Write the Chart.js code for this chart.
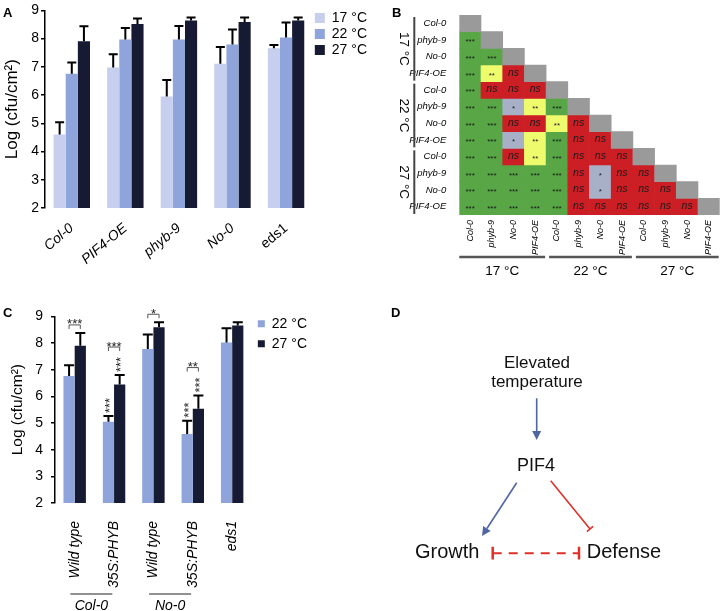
<!DOCTYPE html>
<html>
<head>
<meta charset="utf-8">
<script src="https://cdn.jsdelivr.net/npm/chart.js@4.4.1/dist/chart.umd.min.js"></script>
<style>
html, body { margin: 0; padding: 0; background: #fff; }
#wrap { position: relative; width: 724px; height: 611px; overflow: hidden; }
canvas { position: absolute; }
</style>
</head>
<body>
<div id="wrap">
<canvas id="chartA" width="377" height="300" style="left:0;top:0"></canvas>
<canvas id="chartB" width="364" height="295" style="left:360px;top:0"></canvas>
<canvas id="chartC" width="317" height="311" style="left:0;top:300px"></canvas>
<canvas id="chartD" width="364" height="311" style="left:360px;top:300px"></canvas>
</div>
<script>
// panel A : growth at three temperatures
const genotypesA = ['Col-0', 'PIF4-OE', 'phyb-9', 'No-0', 'eds1']
const mean17 = [4.60, 6.98, 5.95, 7.11, 7.66]
const sd17   = [0.44, 0.47, 0.58, 0.59, 0.11]
const mean22 = [6.76, 7.97, 7.97, 7.79, 8.04]
const sd22   = [0.39, 0.41, 0.48, 0.53, 0.53]
const mean27 = [7.91, 8.52, 8.64, 8.59, 8.64]
const sd27   = [0.53, 0.19, 0.11, 0.16, 0.11]

// panel B : pairwise significance (row vs column, lower triangle)
const heatGenotypes = ['Col-0', 'phyb-9', 'No-0', 'PIF4-OE']
const heatTemps = ['17 °C', '22 °C', '27 °C']
const heatSig = [
	[],
	['***'],
	['***', '***'],
	['***', '**', 'ns'],
	['***', 'ns', 'ns', 'ns'],
	['***', '***', '*', '**', '***'],
	['***', '***', 'ns', 'ns', '**', 'ns'],
	['***', '***', '*', '**', '***', 'ns', 'ns'],
	['***', '***', 'ns', '**', '***', 'ns', 'ns', 'ns'],
	['***', '***', '***', '***', '***', 'ns', '*', 'ns', 'ns'],
	['***', '***', '***', '***', '***', 'ns', '*', 'ns', 'ns', 'ns'],
	['***', '***', '***', '***', '***', 'ns', 'ns', 'ns', 'ns', 'ns', 'ns']
]

// panel C : PHYB overexpression
const linesC = ['Wild type', '35S:PHYB', 'Wild type', '35S:PHYB', 'eds1']
const backgroundsC = ['Col-0', 'No-0']
const c22   = [6.76, 5.05, 7.78, 4.59, 8.02]
const c22sd = [0.41, 0.21, 0.54, 0.50, 0.54]
const c27   = [7.90, 6.45, 8.59, 5.54, 8.66]
const c27sd = [0.48, 0.35, 0.19, 0.49, 0.12]
const cTempSig = ['***', '***', '*', '**', '']
const cVsWt22  = ['', '***', '', '***', '']
const cVsWt27  = ['', '***', '', '***', '']

const color17 = '#c6d0ee'
const color22 = '#8ea4da'
const color27 = '#161b33'
const sigColors = { '***': '#58a646', '**': '#eefb6c', '*': '#a7b0c6', 'ns': '#cc1f25' }
const diagColor = '#9a9a9a'

const fontFamily = "'Liberation Sans', Arial, Helvetica, sans-serif"
Chart.defaults.font.family = fontFamily
Chart.defaults.color = '#000'
Chart.defaults.animation = false
Chart.defaults.plugins.tooltip.enabled = false

const panelLetter = {
	id: 'panelLetter',
	afterDraw(chart, args, opts) {
		const ctx = chart.ctx
		ctx.save()
		ctx.font = `bold 13px ${fontFamily}`
		ctx.fillStyle = '#000'
		ctx.textBaseline = 'alphabetic'
		ctx.fillText(opts.text, opts.x, opts.y)
		ctx.restore()
	}
}

const errorBars = {
	id: 'errorBars',
	afterDatasetsDraw(chart, args, opts) {
		const ctx = chart.ctx
		const ys = chart.scales.y
		chart.data.datasets.forEach((ds, i) => {
			if (!ds.errors) return
			chart.getDatasetMeta(i).data.forEach((bar, k) => {
				const top = ys.getPixelForValue(ds.data[k] + ds.errors[k])
				ctx.save()
				ctx.strokeStyle = '#000'
				ctx.lineWidth = opts.width
				ctx.beginPath()
				ctx.moveTo(bar.x, bar.y)
				ctx.lineTo(bar.x, top)
				ctx.moveTo(bar.x - opts.cap, top)
				ctx.lineTo(bar.x + opts.cap, top)
				ctx.stroke()
				ctx.restore()
			})
		})
	}
}

/* panel A */
new Chart(document.getElementById('chartA'), {
	type: 'bar',
	data: {
		labels: genotypesA,
		datasets: [
			{ label: '17 °C', data: mean17, errors: sd17, backgroundColor: color17 },
			{ label: '22 °C', data: mean22, errors: sd22, backgroundColor: color22 },
			{ label: '27 °C', data: mean27, errors: sd27, backgroundColor: color27 }
		]
	},
	options: {
		responsive: false,
		layout: { autoPadding: false, padding: { top: 9 } },
		datasets: { bar: { categoryPercentage: 0.68, barPercentage: 1 } },
		scales: {
			x: {
				grid: { display: false },
				border: { display: false },
				ticks: {
					autoSkip: false, maxRotation: 40, minRotation: 40, padding: 4,
					font: c => ({ size: 14, style: c.index < 4 ? 'italic' : 'normal' })
				},
				afterFit: s => { s.height = 92 }
			},
			y: {
				min: 2, max: 9,
				ticks: { stepSize: 1, padding: 2, font: { size: 14 } },
				grid: { drawOnChartArea: false, tickLength: 4, color: '#000', lineWidth: 1.5 },
				border: { color: '#000', width: 1.5 },
				title: { display: true, text: 'Log (cfu/cm²)', font: { size: 17 }, padding: { top: 2, bottom: 0 } },
				afterFit: s => { s.width = 45 }
			}
		},
		plugins: {
			legend: {
				position: 'right', align: 'start',
				labels: { boxWidth: 10, boxHeight: 10, padding: 2, font: { size: 14 } }
			},
			errorBars: { cap: 4.5, width: 2 },
			panelLetter: { text: 'A', x: 3, y: 17 }
		}
	},
	plugins: [errorBars, panelLetter]
})

/* panel B */
const heatLabels = []
heatTemps.forEach(() => heatGenotypes.forEach(g => heatLabels.push(g)))

const heatSets = heatLabels.map((_, i) => ({
	data: heatLabels.map((_, j) => j <= i ? [i, i + 1] : null),
	backgroundColor: heatLabels.map((_, j) => j === i ? diagColor : (sigColors[heatSig[i][j]] || 'transparent')),
	borderWidth: 0,
	grouped: false,
	categoryPercentage: 1,
	barPercentage: 1
}))

const heatText = {
	id: 'heatText',
	afterDatasetsDraw(chart) {
		const ctx = chart.ctx
		heatSig.forEach((row, i) => {
			const meta = chart.getDatasetMeta(i)
			row.forEach((sig, j) => {
				const p = meta.data[j].getCenterPoint()
				ctx.save()
				ctx.fillStyle = '#1a1a1a'
				ctx.textAlign = 'center'
				ctx.textBaseline = 'middle'
				if (sig === 'ns') {
					ctx.font = `italic 10.5px ${fontFamily}`
					ctx.fillText(sig, p.x, p.y - 0.5)
				} else {
					ctx.font = `8px ${fontFamily}`
					ctx.fillText(sig, p.x, p.y + 2)
				}
				ctx.restore()
			})
		})
	},
	afterDraw(chart) {
		const ctx = chart.ctx
		const area = chart.chartArea
		const ys = chart.scales.y
		const cw = (area.right - area.left) / heatLabels.length
		const n = heatGenotypes.length
		ctx.save()
		ctx.strokeStyle = '#444'
		ctx.fillStyle = '#000'
		ctx.font = `13.5px ${fontFamily}`
		ctx.textAlign = 'center'
		ctx.textBaseline = 'middle'
		heatTemps.forEach((t, g) => {
			// row groups
			const y0 = ys.getPixelForValue(g * n) + 2
			const y1 = ys.getPixelForValue(g * n + n) - 1
			ctx.lineWidth = 2
			ctx.beginPath()
			ctx.moveTo(area.left - 45, y0)
			ctx.lineTo(area.left - 45, y1)
			ctx.stroke()
			ctx.save()
			ctx.translate(area.left - 56, (y0 + y1) / 2)
			ctx.rotate(Math.PI / 2)
			ctx.fillText(t, 0, 0)
			ctx.restore()
			// column groups
			const x0 = area.left + g * n * cw + (g ? 3 : 0)
			const x1 = area.left + (g + 1) * n * cw - 1
			ctx.lineWidth = 2.5
			ctx.strokeStyle = '#555'
			ctx.beginPath()
			ctx.moveTo(x0, area.bottom + 42)
			ctx.lineTo(x1, area.bottom + 42)
			ctx.stroke()
			ctx.strokeStyle = '#444'
			ctx.fillText(t, (x0 + x1) / 2, area.bottom + 56)
		})
		ctx.restore()
	}
}

new Chart(document.getElementById('chartB'), {
	type: 'bar',
	data: { labels: heatLabels, datasets: heatSets },
	options: {
		responsive: false,
		layout: { autoPadding: false, padding: { top: 15, right: 4.3 } },
		scales: {
			x: {
				grid: { display: false },
				border: { display: false },
				ticks: { autoSkip: false, maxRotation: 90, minRotation: 90, padding: -3, font: { size: 9, style: 'italic' } },
				afterFit: s => { s.height = 80 }
			},
			y: {
				min: 0, max: heatLabels.length, reverse: true,
				grid: { display: false },
				border: { display: false },
				afterBuildTicks: s => { s.ticks = heatLabels.map((_, i) => ({ value: i + 0.5 })) },
				ticks: { autoSkip: false, padding: 5, font: { size: 9.5, style: 'italic' }, callback: v => heatLabels[Math.floor(v)] },
				afterFit: s => { s.width = 99.3 }
			}
		},
		plugins: {
			legend: { display: false },
			panelLetter: { text: 'B', x: 32, y: 17 }
		}
	},
	plugins: [heatText, panelLetter]
})

/* panel C */
const sigMarks = {
	id: 'sigMarks',
	afterDatasetsDraw(chart) {
		const ctx = chart.ctx
		const ys = chart.scales.y
		const ds = chart.data.datasets
		const metas = ds.map((_, i) => chart.getDatasetMeta(i))
		ctx.save()
		ctx.fillStyle = '#222'
		ctx.strokeStyle = '#555'
		ctx.lineWidth = 1
		ctx.font = `13px ${fontFamily}`
		linesC.forEach((_, k) => {
			const caps = ds.map(d => ys.getPixelForValue(d.data[k] + d.errors[k]))
			let vertical = false
			metas.forEach((m, i) => {
				const s = ds[i].vsWt[k]
				if (!s) return
				vertical = true
				ctx.save()
				ctx.translate(m.data[k].x + 2, caps[i] - 3)
				ctx.rotate(-Math.PI / 2)
				ctx.textAlign = 'left'
				ctx.textBaseline = 'middle'
				ctx.fillText(s, 0, 0)
				ctx.restore()
			})
			const s = cTempSig[k]
			if (!s) return
			const bottom = Math.min(...caps) - (vertical ? 24 : 4)
			const top = bottom - 4
			const xa = metas[0].data[k].x
			const xb = metas[1].data[k].x
			ctx.beginPath()
			ctx.moveTo(xa, bottom)
			ctx.lineTo(xa, top)
			ctx.lineTo(xb, top)
			ctx.lineTo(xb, bottom)
			ctx.stroke()
			ctx.textAlign = 'center'
			ctx.textBaseline = 'alphabetic'
			ctx.fillText(s, (xa + xb) / 2, top + 3.5)
		})
		ctx.restore()
	},
	afterDraw(chart) {
		const ctx = chart.ctx
		const area = chart.chartArea
		const xs = chart.scales.x
		ctx.save()
		ctx.strokeStyle = '#222'
		ctx.lineWidth = 1
		ctx.fillStyle = '#000'
		ctx.font = `italic 14px ${fontFamily}`
		ctx.textAlign = 'center'
		ctx.textBaseline = 'alphabetic'
		backgroundsC.forEach((name, g) => {
			const mid = (xs.getPixelForValue(2 * g) + xs.getPixelForValue(2 * g + 1)) / 2 - 3
			ctx.beginPath()
			ctx.moveTo(mid - 21, area.bottom + 91)
			ctx.lineTo(mid + 21, area.bottom + 91)
			ctx.stroke()
			ctx.fillText(name, mid, area.bottom + 107)
		})
		ctx.restore()
	}
}

new Chart(document.getElementById('chartC'), {
	type: 'bar',
	data: {
		labels: linesC,
		datasets: [
			{ label: '22 °C', data: c22, errors: c22sd, vsWt: cVsWt22, backgroundColor: color22 },
			{ label: '27 °C', data: c27, errors: c27sd, vsWt: cVsWt27, backgroundColor: color27 }
		]
	},
	options: {
		responsive: false,
		layout: { autoPadding: false, padding: { top: 10.7 } },
		datasets: { bar: { categoryPercentage: 0.57, barPercentage: 1 } },
		scales: {
			x: {
				grid: { display: false },
				border: { display: false },
				ticks: { autoSkip: false, maxRotation: 90, minRotation: 90, padding: 10, font: { size: 14, style: 'italic' } },
				afterFit: s => { s.height = 108 }
			},
			y: {
				min: 2, max: 9,
				ticks: { stepSize: 1, padding: 8, font: { size: 14 } },
				grid: { drawOnChartArea: false, tickLength: 4, color: '#000', lineWidth: 1.5 },
				border: { color: '#000', width: 1.5 },
				title: { display: true, text: 'Log (cfu/cm²)', font: { size: 15.5 }, padding: { top: 8, bottom: 0 } },
				afterFit: s => { s.width = 55 }
			}
		},
		plugins: {
			legend: {
				position: 'right', align: 'start',
				labels: { boxWidth: 7, boxHeight: 7, padding: 6, font: { size: 14 } }
			},
			errorBars: { cap: 5, width: 2 },
			panelLetter: { text: 'C', x: 3, y: 17 }
		}
	},
	plugins: [errorBars, sigMarks, panelLetter]
})

/* panel D : model */
const blue = '#4f66a3'
const red = '#e03028'

const arrowTo = (ctx, x0, y0, x1, y1, color) => {
	const a = Math.atan2(y1 - y0, x1 - x0)
	const head = 9
	ctx.strokeStyle = color
	ctx.fillStyle = color
	ctx.lineWidth = 1.6
	ctx.beginPath()
	ctx.moveTo(x0, y0)
	ctx.lineTo(x1 - head * Math.cos(a), y1 - head * Math.sin(a))
	ctx.stroke()
	ctx.beginPath()
	ctx.moveTo(x1, y1)
	ctx.lineTo(x1 - head * Math.cos(a) + 4.5 * Math.sin(a), y1 - head * Math.sin(a) - 4.5 * Math.cos(a))
	ctx.lineTo(x1 - head * Math.cos(a) - 4.5 * Math.sin(a), y1 - head * Math.sin(a) + 4.5 * Math.cos(a))
	ctx.closePath()
	ctx.fill()
}

const inhibitTo = (ctx, x0, y0, x1, y1, color) => {
	const a = Math.atan2(y1 - y0, x1 - x0)
	ctx.strokeStyle = color
	ctx.lineWidth = 1.6
	ctx.beginPath()
	ctx.moveTo(x0, y0)
	ctx.lineTo(x1, y1)
	ctx.moveTo(x1 + 4 * Math.sin(a), y1 - 4 * Math.cos(a))
	ctx.lineTo(x1 - 4 * Math.sin(a), y1 + 4 * Math.cos(a))
	ctx.stroke()
}

const diagram = {
	id: 'diagram',
	afterDraw(chart) {
		const ctx = chart.ctx
		ctx.save()
		ctx.fillStyle = '#111'
		ctx.textBaseline = 'alphabetic'
		ctx.textAlign = 'center'
		ctx.font = `17px ${fontFamily}`
		ctx.fillText('Elevated', 177, 68)
		ctx.fillText('temperature', 177, 87.3)
		ctx.font = `18px ${fontFamily}`
		ctx.fillText('PIF4', 176, 170.7)
		ctx.font = `20px ${fontFamily}`
		ctx.textAlign = 'left'
		ctx.fillText('Growth', 55, 258.3)
		ctx.fillText('Defense', 226.7, 258.3)

		arrowTo(ctx, 176.7, 98.3, 176.7, 140, blue)
		arrowTo(ctx, 156.7, 182.7, 122, 236, blue)
		inhibitTo(ctx, 190.7, 180.7, 230, 229, red)

		// mutual antagonism
		ctx.strokeStyle = red
		ctx.lineWidth = 2.5
		ctx.beginPath()
		ctx.moveTo(132.7, 246.7)
		ctx.lineTo(132.7, 259.5)
		ctx.moveTo(219, 246.7)
		ctx.lineTo(219, 259.5)
		ctx.stroke()
		ctx.lineWidth = 2
		ctx.setLineDash([9, 7])
		ctx.beginPath()
		ctx.moveTo(132.7, 253.3)
		ctx.lineTo(219, 253.3)
		ctx.stroke()
		ctx.restore()
	}
}

new Chart(document.getElementById('chartD'), {
	type: 'scatter',
	data: { datasets: [] },
	options: {
		responsive: false,
		scales: { x: { display: false }, y: { display: false } },
		plugins: {
			legend: { display: false },
			panelLetter: { text: 'D', x: 31, y: 17 }
		}
	},
	plugins: [diagram, panelLetter]
})
</script>
</body>
</html>
